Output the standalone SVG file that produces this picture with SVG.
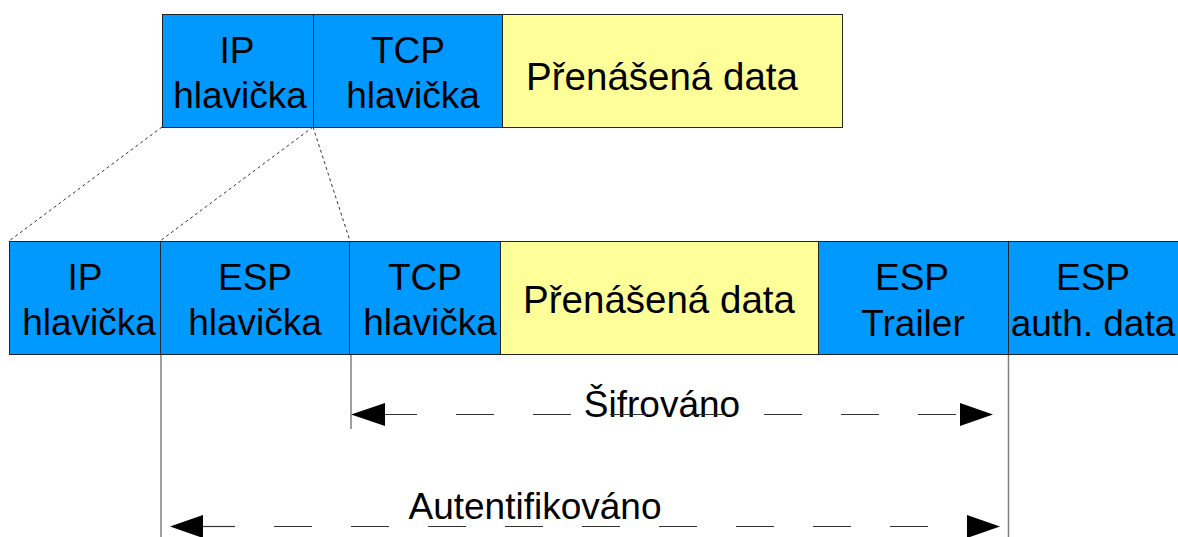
<svg xmlns="http://www.w3.org/2000/svg" width="1178" height="537" viewBox="0 0 1178 537">
<defs>
<style>
.blue{fill:#0099ff;stroke:#222;stroke-width:1}
.yellow{fill:#ffff99;stroke:#222;stroke-width:1}
text{font-family:"Liberation Sans",Arial,sans-serif;font-size:37px;fill:#000;text-anchor:middle}
.big{font-size:38.5px}
.dot{stroke:#333;stroke-width:1;stroke-dasharray:3 3;fill:none}
.vline{stroke:#808080;stroke-width:1.5;fill:none}
.dash{stroke:#333;stroke-width:1.2;stroke-dasharray:38 39;stroke-dashoffset:6;fill:none}
</style>
</defs>
<rect width="1178" height="537" fill="#fff"/>

<g id="top-ip"><rect class="blue" x="162.5" y="14.5" width="151" height="113"/><text x="237" y="63">IP</text><text x="240" y="108">hlavička</text></g>
<g id="top-tcp"><rect class="blue" x="313.5" y="14.5" width="189" height="113"/><text x="408" y="63">TCP</text><text x="413" y="108">hlavička</text></g>
<g id="top-data"><rect class="yellow" x="502.5" y="14.5" width="340" height="113"/><text class="big" x="662" y="90">Přenášená data</text></g>

<g id="b-ip"><rect class="blue" x="9.5" y="241.5" width="151" height="113"/><text x="85" y="290">IP</text><text x="89" y="335">hlavička</text></g>
<g id="b-esp"><rect class="blue" x="160.5" y="241.5" width="189" height="113"/><text x="255" y="290">ESP</text><text x="255" y="335">hlavička</text></g>
<g id="b-tcp"><rect class="blue" x="349.5" y="241.5" width="151" height="113"/><text x="425" y="290">TCP</text><text x="430" y="335">hlavička</text></g>
<g id="b-data"><rect class="yellow" x="500.5" y="241.5" width="318" height="113"/><text class="big" x="659" y="313">Přenášená data</text></g>
<g id="b-trailer"><rect class="blue" x="818.5" y="241.5" width="190" height="113"/><text x="912" y="290">ESP</text><text x="913" y="336">Trailer</text></g>
<g id="b-auth"><rect class="blue" x="1008.5" y="241.5" width="172" height="113"/><text x="1093" y="290">ESP</text><text x="1093" y="336">auth. data</text></g>

<g id="labels">
<text x="662" y="417">Šifrováno</text>
<text x="535" y="519">Autentifikováno</text>
</g>

<g id="connectors">
<line class="dot" x1="162" y1="127" x2="9" y2="241"/>
<line class="dot" x1="313" y1="127" x2="160" y2="241"/>
<line class="dot" x1="313" y1="127" x2="350" y2="241"/>
<line class="vline" x1="161" y1="355" x2="161" y2="537"/>
<line class="vline" x1="351" y1="355" x2="351" y2="429"/>
<line class="vline" x1="1008.5" y1="355" x2="1008.5" y2="537"/>
<line class="dash" x1="385" y1="414.5" x2="960" y2="414.5"/>
<path d="M385,403 L351,414.5 L385,426 Z" fill="#000"/>
<path d="M960,403 L993,414.5 L960,426 Z" fill="#000"/>
<line class="dash" x1="203" y1="526.5" x2="967" y2="526.5"/>
<path d="M203,515 L170,526.5 L203,538 Z" fill="#000"/>
<path d="M967,515 L1000,526.5 L967,538 Z" fill="#000"/>
</g>
</svg>
